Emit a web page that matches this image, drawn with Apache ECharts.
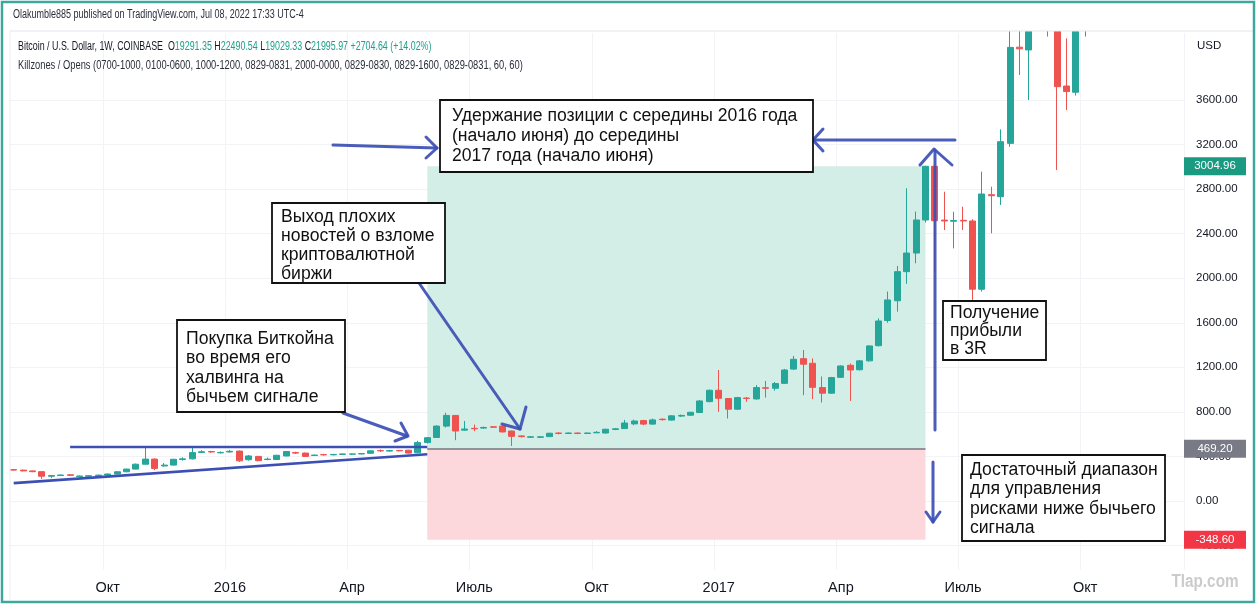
<!DOCTYPE html>
<html><head><meta charset="utf-8">
<script src="https://cdn.jsdelivr.net/npm/echarts@6/dist/echarts.min.js"></script>
<style>html,body{margin:0;padding:0;background:#fff}#c{width:1257px;height:605px}</style>
</head><body><div id="c"></div>
<script>
// Weekly candles (Monday start), BTC/USD COINBASE
const categories = [
'2015-07-27','2015-08-03','2015-08-10','2015-08-17','2015-08-24','2015-08-31','2015-09-07','2015-09-14','2015-09-21','2015-09-28',
'2015-10-05','2015-10-12','2015-10-19','2015-10-26','2015-11-02','2015-11-09','2015-11-16','2015-11-23','2015-11-30','2015-12-07',
'2015-12-14','2015-12-21','2015-12-28','2016-01-04','2016-01-11','2016-01-18','2016-01-25','2016-02-01','2016-02-08','2016-02-15',
'2016-02-22','2016-02-29','2016-03-07','2016-03-14','2016-03-21','2016-03-28','2016-04-04','2016-04-11','2016-04-18','2016-04-25',
'2016-05-02','2016-05-09','2016-05-16','2016-05-23','2016-05-30','2016-06-06','2016-06-13','2016-06-20','2016-06-27','2016-07-04',
'2016-07-11','2016-07-18','2016-07-25','2016-08-01','2016-08-08','2016-08-15','2016-08-22','2016-08-29','2016-09-05','2016-09-12',
'2016-09-19','2016-09-26','2016-10-03','2016-10-10','2016-10-17','2016-10-24','2016-10-31','2016-11-07','2016-11-14','2016-11-21',
'2016-11-28','2016-12-05','2016-12-12','2016-12-19','2016-12-26','2017-01-02','2017-01-09','2017-01-16','2017-01-23','2017-01-30',
'2017-02-06','2017-02-13','2017-02-20','2017-02-27','2017-03-06','2017-03-13','2017-03-20','2017-03-27','2017-04-03','2017-04-10',
'2017-04-17','2017-04-24','2017-05-01','2017-05-08','2017-05-15','2017-05-22','2017-05-29','2017-06-05','2017-06-12','2017-06-19',
'2017-06-26','2017-07-03','2017-07-10','2017-07-17','2017-07-24','2017-07-31','2017-08-07','2017-08-14','2017-08-21','2017-08-28',
'2017-09-04','2017-09-11','2017-09-18','2017-09-25','2017-10-02','2017-10-09','2017-10-16','2017-10-23','2017-10-30','2017-11-06',
'2017-11-13','2017-11-20','2017-11-27','2017-12-04','2017-12-11'
];
// [open, close, low, high]
const ohlc = [
[282,277,272,286],[277,270,266,280],[270,263,258,273],[263,222,198,265],[222,228,205,234],
[228,233,224,238],[235,230,226,240],[220,224,216,228],[222,226,218,230],[226,232,222,236],
[232,242,228,246],[242,262,238,266],[262,286,258,290],[286,330,282,336],[330,376,326,482],
[376,292,276,382],[314,322,310,340],[322,374,318,378],[372,378,362,392],[378,434,372,480],
[436,442,430,456],[444,440,432,450],[432,436,426,444],[440,446,434,458],[448,360,350,452],
[370,404,362,412],[400,362,356,404],[372,376,366,390],[372,410,368,414],[404,444,400,448],
[434,430,422,442],[430,400,396,434],[408,412,404,416],[416,414,408,422],[414,418,410,422],
[418,422,414,426],[420,422,416,426],[422,426,418,430],[428,450,424,454],[452,450,440,462],
[448,452,444,458],[454,450,446,458],[456,430,426,458],[432,524,430,540],[524,568,516,574],
[570,672,566,680],[672,768,660,792],[768,628,546,772],[636,646,630,718],[652,648,626,686],
[654,660,648,668],[666,662,656,672],[672,620,614,676],[628,580,494,632],[584,578,570,590],
[572,576,566,582],[572,576,566,582],[578,608,574,612],[610,606,598,618],[606,610,602,614],
[610,606,600,614],[606,610,602,614],[612,616,610,628],[610,644,606,648],[642,648,636,654],
[650,700,646,728],[692,718,680,730],[722,690,680,728],[690,728,684,740],[734,730,722,742],
[726,764,722,770],[762,768,754,776],[770,796,764,800],[794,898,790,904],[892,994,886,1000],
[994,922,800,1176],[920,824,740,924],[824,928,818,934],[924,920,890,934],[916,1018,910,1040],
[1016,1012,928,1078],[1012,1054,990,1068],[1056,1176,1050,1186],[1184,1272,1176,1302],[1278,1228,950,1356],
[1236,1020,914,1280],[1018,968,884,1118],[968,1108,962,1114],[1110,1212,1104,1218],[1218,1176,898,1234],
[1178,1258,1172,1264],[1258,1392,1252,1398],[1394,1616,1388,1640],[1620,1805,1600,1880],[1798,2059,1700,2110],
[2059,2226,1950,2808],[2226,2523,2134,2598],[2523,3005,2500,3010],[3005,2516,2060,3010],[2522,2514,2433,2777],
[2512,2518,2268,2597],[2520,2514,2433,2642],[2514,1901,1805,2530],[1901,2756,1880,2957],[2750,2741,2403,2822],
[2732,3226,2658,3337],[3211,4073,3180,4250],[4075,4060,3825,4480],[4050,4330,3600,4460],[4340,4590,4300,4750],
[4590,4330,4170,4700],[4330,3720,2972,4400],[3726,3676,3510,4154],[3670,4350,3640,4400],[4350,4600,4170,4650]
];
const tickDates  = ['2015-10-05','2016-01-04','2016-04-04','2016-07-04','2016-10-03','2017-01-02','2017-04-03','2017-07-03','2017-10-02'];
const tickLabels = ['Окт','2016','Апр','Июль','Окт','2017','Апр','Июль','Окт'];
const yTicks = [-400,0,400,800,1200,1600,2000,2400,2800,3200,3600];
const entryPrice = 469.20, targetPrice = 3004.96, stopPrice = -348.60;
const positionStart = '2016-05-30', positionEnd = '2017-06-05';
const trendUpper = [['2015-09-07',485],['2016-05-30',485]];
const trendLower = [['2015-07-27',160],['2016-05-30',420]];

const UP='#26a69a', DOWN='#ef5350', BLUE='#3c4fb4';
const chart = echarts.init(document.getElementById('c'), null, {renderer:'canvas'});
const showTick = (i, v) => tickDates.indexOf(v) >= 0;

chart.setOption({
  animation:false,
  backgroundColor:'#ffffff',
  grid:{left:9, right:73, top:33, bottom:35},
  xAxis:{type:'category', data:categories, boundaryGap:true,
    axisLine:{show:false}, axisTick:{show:false},
    axisLabel:{interval:showTick, hideOverlap:false, margin:10,
      formatter:v => tickLabels[tickDates.indexOf(v)] || '',
      color:'#131722', fontSize:14.5, fontFamily:'"Liberation Sans Narrow", "Liberation Sans", sans-serif'},
    splitLine:{show:true, interval:showTick, lineStyle:{color:'#f1f3f6', width:1}}},
  yAxis:{type:'value', position:'right', min:-620, max:4202, scale:false,
    axisLine:{show:false},
    axisTick:{show:false, customValues:yTicks},
    axisLabel:{customValues:yTicks, formatter:v => v.toFixed(2), color:'#131722', fontSize:11.5, margin:12,
      fontFamily:'"Liberation Sans", sans-serif'},
    splitLine:{show:true, lineStyle:{color:'#f1f3f6', width:1}}},
  series:[
    {type:'candlestick', data:ohlc, barWidth:6.5, clip:true,
     itemStyle:{color:UP, color0:DOWN, borderColor:UP, borderColor0:DOWN, borderWidth:1},
     markArea:{silent:true, data:[
       [{xAxis:positionStart, yAxis:entryPrice, itemStyle:{color:'#d3ede7'}}, {xAxis:positionEnd, yAxis:targetPrice}],
       [{xAxis:positionStart, yAxis:entryPrice, itemStyle:{color:'#fcd7dc'}}, {xAxis:positionEnd, yAxis:stopPrice}]
     ]},
     markLine:{silent:true, symbol:['none','none'], label:{show:false},
       lineStyle:{color:'#8f939c', width:2, type:'solid'},
       data:[[{coord:[positionStart, entryPrice]}, {coord:[positionEnd, entryPrice]}]]}
    },
    {type:'line', data:trendUpper, symbol:'none', z:5, lineStyle:{color:BLUE, width:2.6}},
    {type:'line', data:trendLower, symbol:'none', z:5, lineStyle:{color:BLUE, width:2.6}}
  ]
});

function py(v){ return chart.convertToPixel({yAxisIndex:0}, v); }
const FONT = '17.6px "Liberation Sans", Arial, sans-serif';
function box(x,y,w,h,text,tx,ty,lh){
  return [
    {type:'rect', z:50, shape:{x:x,y:y,width:w,height:h}, style:{fill:'#fff', stroke:'#111', lineWidth:1.8}},
    {type:'text', z:51, style:{x:tx, y:ty, text:text, font:FONT, fill:'#111', lineHeight:lh, verticalAlign:'top'}}
  ];
}
function arrow(pts){ return {type:'polyline', z:40, shape:{points:pts}, style:{stroke:BLUE, lineWidth:3, fill:null, lineCap:'round', lineJoin:'round', opacity:0.92}}; }
function priceTag(v, color){
  const y = py(v);
  return [
    {type:'rect', z:60, shape:{x:1184, y:y-9, width:62, height:18}, style:{fill:color}},
    {type:'text', z:61, style:{x:1215, y:y, text:v.toFixed(2), fill:'#fff', font:'11.5px "Liberation Sans", sans-serif', align:'center', verticalAlign:'middle'}}
  ];
}
const HF = '12.5px "Liberation Sans", sans-serif';
function hdr(x, y, sx, style){
  return {type:'text', z:22, x:x, y:y, scaleX:sx, scaleY:1, style:Object.assign({x:0, y:0, verticalAlign:'middle', fill:'#2a2e39', font:HF}, style)};
}
const g = [];
// header band covers anything above the pane
g.push({type:'rect', z:19, shape:{x:0,y:0,width:1257,height:31}, style:{fill:'#fff'}});
g.push({type:'rect', z:100, shape:{x:2,y:2,width:1252,height:600}, style:{fill:null, stroke:'#3ea89e', lineWidth:2.5}});
g.push({type:'line', z:20, shape:{x1:10,y1:31,x2:1253,y2:31}, style:{stroke:'#e3e5ea', lineWidth:1}});
g.push({type:'line', z:20, shape:{x1:10,y1:31,x2:10,y2:600}, style:{stroke:'#eceef2', lineWidth:1}});
g.push(hdr(13, 15, 0.72, {text:'Olakumble885 published on TradingView.com, Jul 08, 2022 17:33 UTC-4'}));
g.push(hdr(18, 47, 0.71, {
  text:'{a|Bitcoin / U.S. Dollar, 1W, COINBASE  O}{g|19291.35} {a|H}{g|22490.54} {a|L}{g|19029.33} {a|C}{g|21995.97} {g|+2704.64 (+14.02%)}',
  rich:{a:{fill:'#131722', font:HF}, g:{fill:'#1e9e8c', font:HF}}}));
g.push(hdr(18, 66, 0.745, {text:'Killzones / Opens (0700-1000, 0100-0600, 1000-1200, 0829-0831, 2000-0000, 0829-0830, 0829-1600, 0829-0831, 60, 60)'}));
g.push({type:'text', z:21, style:{x:1197, y:46, text:'USD', fill:'#131722', font:'11.5px "Liberation Sans", sans-serif', verticalAlign:'middle'}});
g.push({type:'text', z:21, x:1205, y:582, scaleX:0.85, style:{x:0, y:0, text:'Tlap.com', fill:'#cbcbcb', font:'bold 18px "Liberation Sans", sans-serif', align:'center', verticalAlign:'middle'}});
// arrows
g.push(arrow([[343,413],[407,436]]), arrow([[401,423],[408,436],[395,441]]));
g.push(arrow([[419,283],[520,429]]), arrow([[502,424],[520,429],[526,407]]));
g.push(arrow([[333,145],[437,148]]), arrow([[426,137],[437,148],[426,158]]));
g.push(arrow([[955,140],[813,140]]), arrow([[823,129],[813,140],[823,151]]));
g.push(arrow([[935,430],[935,150]]), arrow([[920,165],[934,149],[952,165]]));
g.push(arrow([[933,462],[933,522]]), arrow([[926,512],[933,522],[940,512]]));
// text boxes
g.push(...box(440,100,373,72,'Удержание позиции с середины 2016 года\n(начало июня) до середины\n2017 года (начало июня)',452,106,20));
g.push(...box(272,203,173,80,'Выход плохих\nновостей о взломе\nкриптовалютной\nбиржи',281,207.5,19));
g.push(...box(177,320,168,92,'Покупка Биткойна\nво время его\nхалвинга на\nбычьем сигнале',186,329,19.5));
g.push(...box(943,301,103,59,'Получение\nприбыли\nв 3R',950,304,18));
g.push(...box(962,455,203,86,'Достаточный диапазон\nдля управления\nрисками ниже бычьего\nсигнала',970,460.5,19.3));
// price tags
g.push(...priceTag(targetPrice,'#1b9a82'), ...priceTag(entryPrice,'#787b86'), ...priceTag(stopPrice,'#f23645'));
chart.setOption({graphic: g});
</script></body></html>
